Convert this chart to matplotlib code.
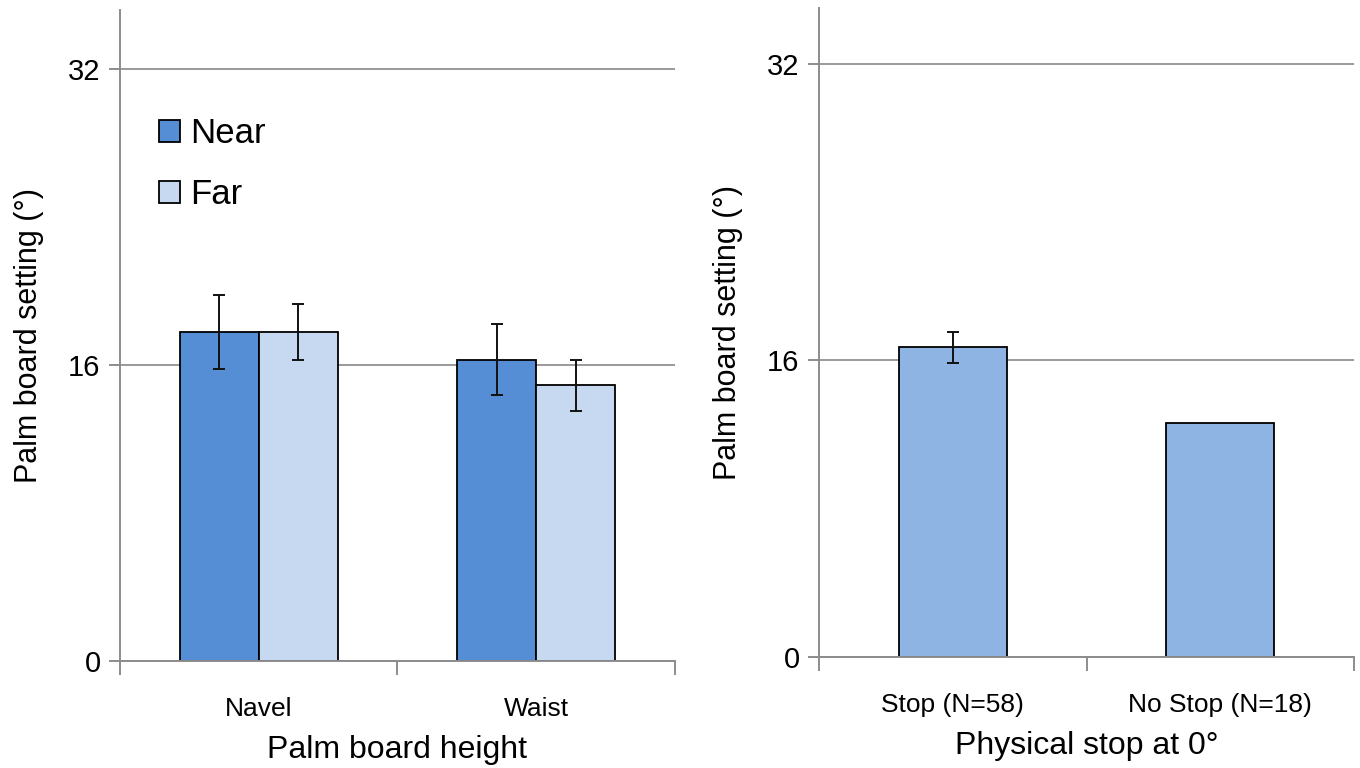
import matplotlib
matplotlib.use("Agg")
import matplotlib.pyplot as plt
import numpy as np

plt.rcParams['font.family'] = ['Liberation Sans Narrow', 'Liberation Sans', 'DejaVu Sans']

# Left panel data
heights = ["Navel", "Waist"]
near_vals = [17.8, 16.3]
near_err = [2.0, 1.9]
far_vals = [17.8, 14.9]
far_err = [1.5, 1.4]

# Right panel data
stop_cats = ["Stop (N=58)", "No Stop (N=18)"]
stop_vals = [16.7, 12.6]
stop_err = [0.85, None]   # no error bar drawn for "No Stop"

NEAR_C = "#558ed5"
FAR_C = "#c6d9f1"
STOP_C = "#8eb4e3"
GRID_C = "#9a9a9a"
SPINE_C = "#8c8c8c"
EKW = dict(elinewidth=1.4, capthick=1.4, ecolor="#111111")

fig = plt.figure(figsize=(13.6, 7.68), dpi=100)
axL = fig.add_axes([0.0882, 0.1393, 0.4081, 0.8477])
axR = fig.add_axes([0.6022, 0.1445, 0.3934, 0.8451])


def style(ax, ymax):
    ax.set_ylim(0, ymax)
    ax.set_xlim(-0.5, 1.5)
    ax.set_yticks([0, 16, 32])
    ax.yaxis.grid(True, color=GRID_C, linewidth=1.4)
    ax.set_axisbelow(True)
    for s in ["top", "right"]:
        ax.spines[s].set_visible(False)
    for s in ["left", "bottom"]:
        ax.spines[s].set_color(SPINE_C)
        ax.spines[s].set_linewidth(1.4)
    ax.tick_params(axis="y", length=8, width=1.4, color=SPINE_C, labelsize=21, pad=6)
    ax.set_xticks([0, 1])
    ax.set_xticks([-0.5, 0.5, 1.5], minor=True)
    ax.tick_params(axis="x", which="major", length=0, labelsize=19, pad=26)
    ax.tick_params(axis="x", which="minor", length=10, width=1.4, color=SPINE_C)


x = np.arange(len(heights))
w = 0.285
style(axL, 35.2)
axL.bar(x - w / 2, near_vals, w, color=NEAR_C, edgecolor="black", linewidth=1.3,
        yerr=near_err, capsize=4.5, error_kw=EKW, label="Near")
axL.bar(x + w / 2, far_vals, w, color=FAR_C, edgecolor="black", linewidth=1.3,
        yerr=far_err, capsize=4.5, error_kw=EKW, label="Far")
axL.set_xticklabels(heights)
axL.set_xlabel("Palm board height", fontsize=23, labelpad=10)
axL.set_ylabel("Palm board setting (°)", fontsize=22, labelpad=17)
axL.legend(loc="upper left", bbox_to_anchor=(0.07, 0.835), frameon=False,
           fontsize=25, handlelength=0.6, handleheight=0.6, handletextpad=0.3,
           labelspacing=0.8, borderaxespad=0, borderpad=0)

xr = np.arange(len(stop_cats))
style(axR, 35.0)
axR.bar(xr, stop_vals, 0.405, color=STOP_C, edgecolor="black", linewidth=1.3)
for xi, v, e in zip(xr, stop_vals, stop_err):
    if e is not None:
        axR.errorbar(xi, v, yerr=e, fmt="none", capsize=4.5, **EKW)
axR.set_xticklabels(stop_cats)
axR.set_xlabel("Physical stop at 0°", fontsize=23, labelpad=10)
axR.set_ylabel("Palm board setting (°)", fontsize=22, labelpad=17)

fig.savefig("out.png", dpi=100)
